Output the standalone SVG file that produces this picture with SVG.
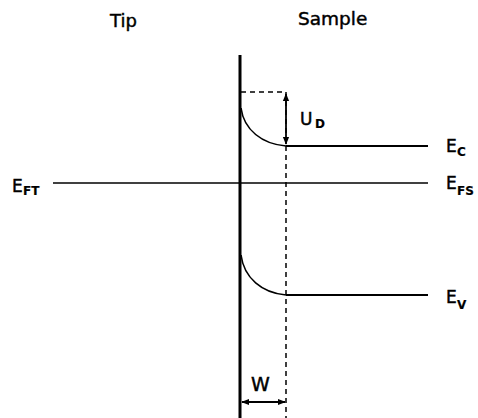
<svg xmlns="http://www.w3.org/2000/svg" width="478" height="418" viewBox="0 0 478 418">
<style>
.t{font-family:"DejaVu Sans",sans-serif;fill:#000;stroke:#000;stroke-width:0.45}
.m{font-size:17px}
.s{font-size:12px;font-weight:bold;stroke-width:0.2}
.ln{stroke:#000;fill:none}
.d{stroke:#000;stroke-width:1.5;stroke-dasharray:5 4;fill:none}
</style>
<defs>
<marker id="ah" viewBox="0 0 10 10" refX="9" refY="5" markerWidth="8" markerHeight="8" orient="auto-start-reverse" markerUnits="userSpaceOnUse">
<path d="M0,1 L10,5 L0,9 Z" fill="#000"/>
</marker>
</defs>
<rect width="478" height="418" fill="#fff"/>
<g id="connectors">
<line class="ln" x1="240" y1="55" x2="240" y2="418" stroke-width="3"/>
<line class="ln" x1="53" y1="183" x2="428" y2="183" stroke-width="1.5"/>
<line class="ln" x1="286" y1="146" x2="428" y2="146" stroke-width="2"/>
<line class="ln" x1="286" y1="295" x2="428" y2="295" stroke-width="2"/>
<path class="ln" stroke-width="1.6" d="M241,108 C244,130 262,144 286,146"/>
<path class="ln" stroke-width="1.6" d="M241,255 C244,278 262,293 286,295"/>
<line class="d" x1="286" y1="92" x2="286" y2="418"/>
<line class="d" x1="241" y1="92" x2="286" y2="92"/>
<line class="ln" x1="286" y1="94" x2="286" y2="144" stroke-width="1.8" marker-start="url(#ah)" marker-end="url(#ah)"/>
<line class="ln" x1="242" y1="402" x2="285" y2="402" stroke-width="1.8" marker-start="url(#ah)" marker-end="url(#ah)"/>
</g>
<g id="label-tip"><text class="t" x="110" y="27" font-size="18">Tip</text></g>
<g id="label-sample"><text class="t" x="298" y="25" font-size="18.5">Sample</text></g>
<g id="label-ud"><text class="t m" x="300" y="125">U</text><text class="t s" x="315" y="128">D</text></g>
<g id="label-ec"><text class="t m" x="446" y="152">E</text><text class="t s" x="457" y="156">C</text></g>
<g id="label-efs"><text class="t m" x="446" y="189">E</text><text class="t s" x="457" y="195">FS</text></g>
<g id="label-eft"><text class="t m" x="12" y="192">E</text><text class="t s" x="23" y="195">FT</text></g>
<g id="label-ev"><text class="t m" x="446" y="303">E</text><text class="t s" x="457" y="309">V</text></g>
<g id="label-w"><text class="t" x="251" y="391" font-size="19">W</text></g>
</svg>
